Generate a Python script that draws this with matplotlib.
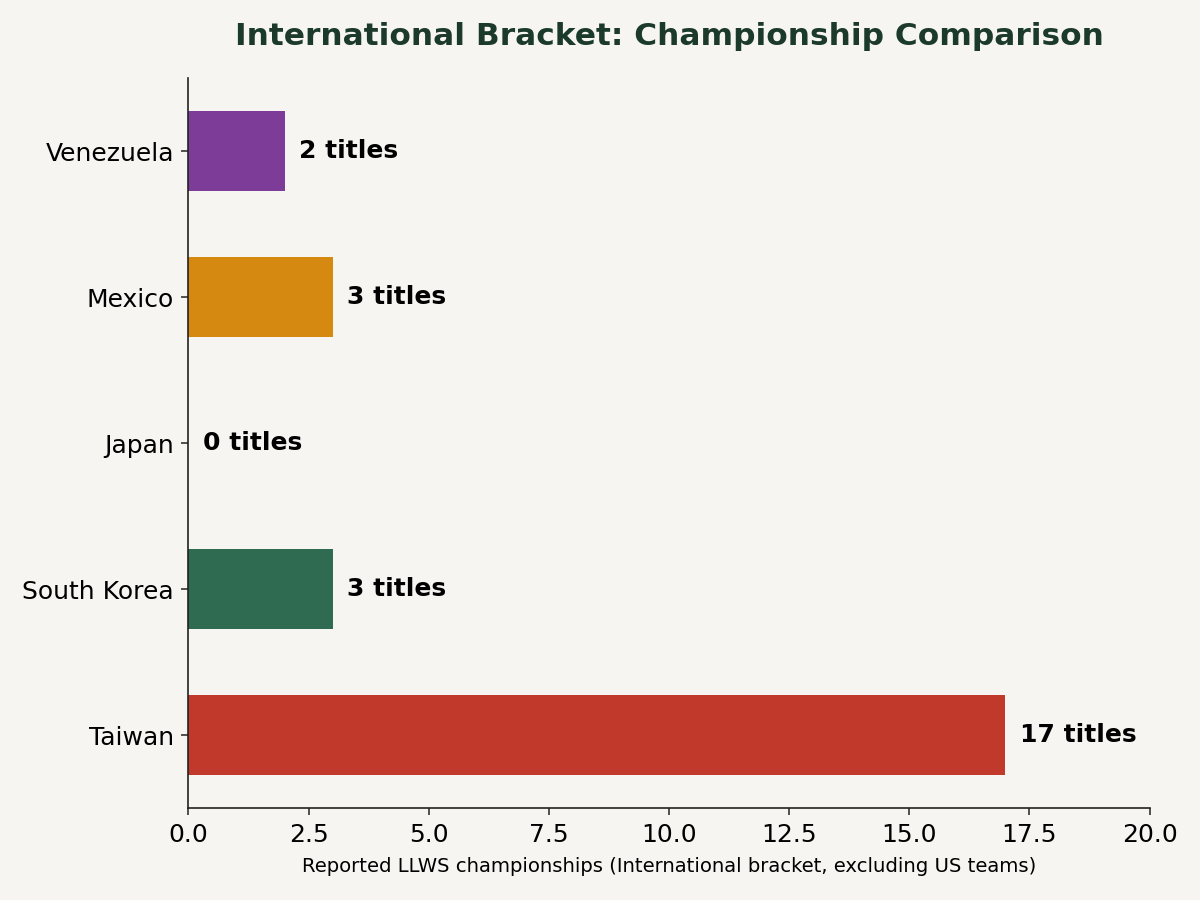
import matplotlib
matplotlib.use("Agg")
import matplotlib.pyplot as plt

countries = ["Taiwan", "South Korea", "Japan", "Mexico", "Venezuela"]
titles = [17, 3, 0, 3, 2]
colors = ["#C0392B", "#2E6B50", "#1F5FA8", "#D68910", "#7D3C98"]

bg = "#F6F5F1"
fig = plt.figure(figsize=(12, 9), dpi=100, facecolor=bg)
ax = fig.add_axes([0.157, 0.102, 0.801, 0.811], facecolor=bg)

ypos = list(range(len(countries)))
ax.barh(ypos, titles, height=0.55, color=colors)
for y, v in zip(ypos, titles):
    ax.text(v + 0.3, y, f"{v} titles", va="center", ha="left",
            fontsize=18, fontweight="bold", color="black")

ax.set_yticks(ypos)
ax.set_yticklabels(countries)
ax.set_xlim(0, 20)
ax.set_ylim(-0.5, 4.5)
ax.set_xticks([0, 2.5, 5, 7.5, 10, 12.5, 15, 17.5, 20])
ax.set_xticklabels(["0.0", "2.5", "5.0", "7.5", "10.0", "12.5", "15.0", "17.5", "20.0"])
ax.tick_params(axis="both", labelsize=18, width=1.1, length=5, pad=5.5, color="#222222")
ax.set_xlabel("Reported LLWS championships (International bracket, excluding US teams)",
              fontsize=14.1, labelpad=7)
for s in ["left", "bottom"]:
    ax.spines[s].set_linewidth(1.2)
    ax.spines[s].set_color("#222222")
ax.spines["top"].set_visible(False)
ax.spines["right"].set_visible(False)
ax.set_title("International Bracket: Championship Comparison", fontsize=22.5,
             fontweight="bold", color="#1B3A2B", pad=24)

fig.savefig("out.png", dpi=100, facecolor=bg)
